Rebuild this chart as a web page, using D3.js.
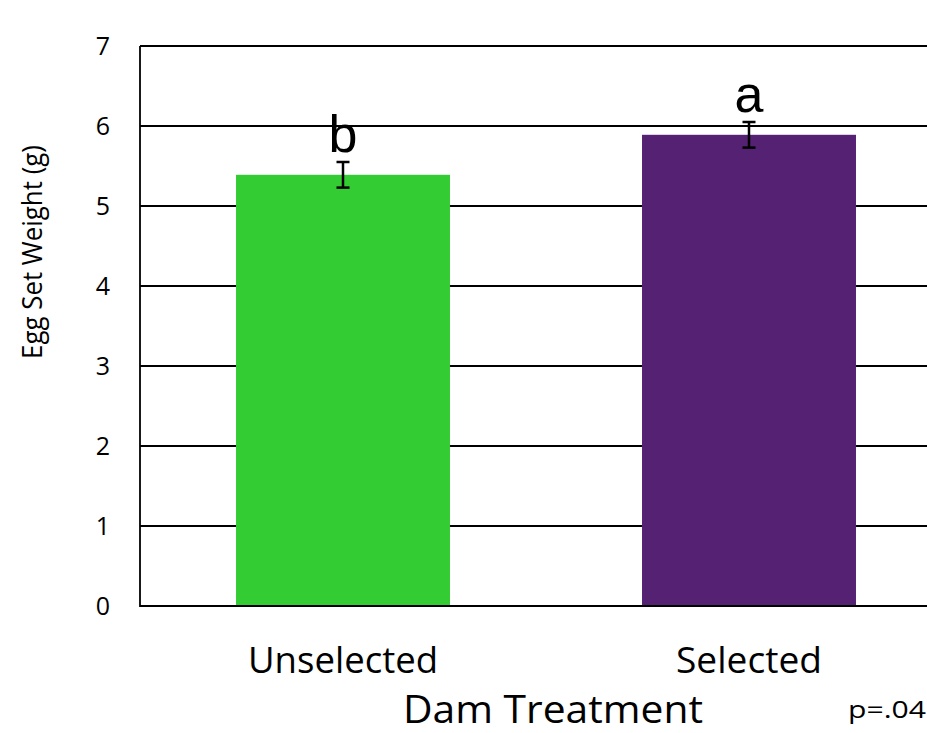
<!DOCTYPE html>
<html>
<head>
<meta charset="utf-8">
<script src="https://cdn.jsdelivr.net/npm/d3@7"></script>
<style>
  html, body { margin: 0; padding: 0; background: #fff; overflow: hidden; }
  svg { display: block; }
</style>
</head>
<body>
<svg id="chart" width="927" height="733"></svg>
<script>
// Dam treatment groups and their mean egg set weight (g) with error
const categories = ["Unselected", "Selected"];
const means = [5.39, 5.89];
const errors = [0.16, 0.16];
const groupLetters = ["b", "a"];
const barColors = ["#33cc33", "#542173"];
const yTicks = [0, 1, 2, 3, 4, 5, 6, 7];

const svg = d3.select("#chart");
const margin = { left: 140, top: 46, right: 952, bottom: 606 };

const x = d3.scaleBand()
  .domain(categories)
  .range([margin.left, margin.right])
  .paddingInner(0.473)
  .paddingOuter(0.2365);

const y = d3.scaleLinear()
  .domain([0, 7])
  .range([margin.bottom, margin.top]);

const font = "'Open Sans', 'Noto Sans', sans-serif";

// horizontal gridlines
svg.append("g")
  .selectAll("line")
  .data(yTicks.filter(d => d > 0))
  .join("line")
  .attr("x1", margin.left)
  .attr("x2", margin.right)
  .attr("y1", d => y(d))
  .attr("y2", d => y(d))
  .attr("stroke", "#000")
  .attr("stroke-width", 1.8);

// bars
svg.append("g")
  .selectAll("rect")
  .data(categories)
  .join("rect")
  .attr("x", d => x(d))
  .attr("width", x.bandwidth())
  .attr("y", (d, i) => y(means[i]))
  .attr("height", (d, i) => y(0) - y(means[i]))
  .attr("fill", (d, i) => barColors[i]);

// plot frame (left and bottom)
svg.append("path")
  .attr("d", `M${margin.left},${margin.top}V${margin.bottom}H${margin.right}`)
  .attr("fill", "none")
  .attr("stroke", "#000")
  .attr("stroke-width", 1.8);

// error bars
const eb = svg.append("g").attr("stroke", "#000").attr("stroke-width", 2.5);
categories.forEach((c, i) => {
  const cx = x(c) + x.bandwidth() / 2;
  const top = y(means[i] + errors[i]);
  const bot = y(means[i] - errors[i]);
  eb.append("line").attr("x1", cx).attr("x2", cx).attr("y1", top).attr("y2", bot);
  eb.append("line").attr("x1", cx - 6.5).attr("x2", cx + 6.5).attr("y1", top).attr("y2", top);
  eb.append("line").attr("x1", cx - 6.5).attr("x2", cx + 6.5).attr("y1", bot).attr("y2", bot);
});

// significance letters above each bar
svg.append("g")
  .selectAll("text")
  .data(categories)
  .join("text")
  .attr("x", d => x(d) + x.bandwidth() / 2)
  .attr("y", (d, i) => y(means[i]) - 23)
  .attr("text-anchor", "middle")
  .attr("font-family", "'Liberation Sans', Arial, sans-serif")
  .attr("font-size", 52)
  .attr("fill", "#000")
  .text((d, i) => groupLetters[i]);

// y tick labels
svg.append("g")
  .selectAll("text")
  .data(yTicks)
  .join("text")
  .attr("x", 110)
  .attr("y", d => y(d))
  .attr("dy", "0.36em")
  .attr("text-anchor", "end")
  .attr("font-family", font)
  .attr("font-size", 25)
  .attr("fill", "#000")
  .text(d => d);

// category labels
const catWidths = [190, 146];
svg.append("g")
  .selectAll("text")
  .data(categories)
  .join("text")
  .attr("x", d => x(d) + x.bandwidth() / 2)
  .attr("y", 673)
  .attr("text-anchor", "middle")
  .attr("font-family", font)
  .attr("font-size", 37)
  .attr("textLength", (d, i) => catWidths[i])
  .attr("lengthAdjust", "spacingAndGlyphs")
  .attr("fill", "#000")
  .text(d => d);

// axis titles
svg.append("text")
  .attr("x", 553)
  .attr("y", 723)
  .attr("text-anchor", "middle")
  .attr("font-family", font)
  .attr("font-size", 39)
  .attr("textLength", 300)
  .attr("lengthAdjust", "spacingAndGlyphs")
  .attr("fill", "#000")
  .text("Dam Treatment");

svg.append("text")
  .attr("transform", "translate(42,252) rotate(-90)")
  .attr("text-anchor", "middle")
  .attr("font-family", font)
  .attr("font-size", 27)
  .attr("textLength", 214)
  .attr("lengthAdjust", "spacingAndGlyphs")
  .attr("fill", "#000")
  .text("Egg Set Weight (g)");

svg.append("text")
  .attr("x", 926)
  .attr("y", 718)
  .attr("text-anchor", "end")
  .attr("font-family", font)
  .attr("font-size", 24)
  .attr("textLength", 78)
  .attr("lengthAdjust", "spacingAndGlyphs")
  .attr("fill", "#000")
  .text("p=.04");
</script>
</body>
</html>
